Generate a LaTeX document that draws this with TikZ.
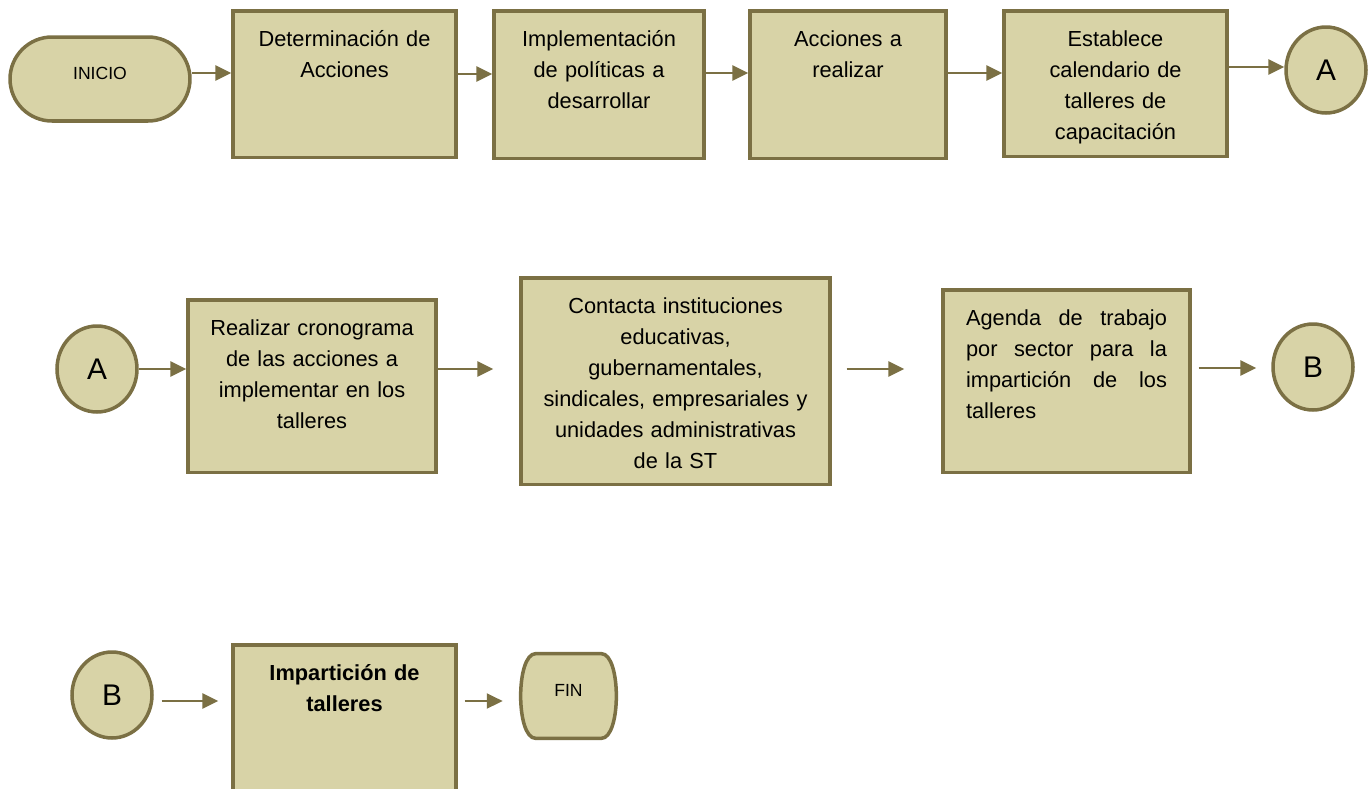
\documentclass[tikz,border=0pt]{standalone}
\usepackage{fontspec}
\setmainfont{Liberation Sans}
\usetikzlibrary{arrows.meta, shapes.geometric, shapes.misc, backgrounds}
\definecolor{boxfill}{RGB}{216,211,167}
\definecolor{boxline}{RGB}{123,112,68}

\begin{document}
\begin{tikzpicture}[x=0.02cm, y=-0.02cm,
	box/.style={rectangle, draw=boxline, fill=boxfill, line width=2pt, anchor=north, inner sep=0pt, align=center, text height=0.72cm, font=\fontsize{12.4pt}{17.6pt}\selectfont},
	term/.style={rounded rectangle, draw=boxline, fill=boxfill, line width=2pt, inner sep=0pt, minimum height=1.68cm, text height=0.25cm, text depth=0.25cm, font=\fontsize{10pt}{12pt}\selectfont},
	conn/.style={ellipse, draw=boxline, fill=boxfill, line width=2pt, inner sep=0pt, minimum width=1.6cm, minimum height=1.72cm, font=\fontsize{17pt}{20pt}\selectfont},
	flow/.style={draw=boxline, line width=1.3pt, -{Triangle[length=9pt, width=8.5pt]}}]
			\clip (0,0) rectangle (1369,788);
			
			\node[term, minimum width=3.6cm] (ini) at (100,79) {INICIO};
			\node[box, text width=4.46cm, text depth=2.22cm] (det) at (344.5,9) {Determinación de\\Acciones};
			\node[box, text width=4.2cm, text depth=2.24cm] (imp) at (599,9) {Implementación\\de políticas a\\desarrollar};
			\node[box, text width=3.92cm, text depth=2.24cm] (acc) at (848,9) {Acciones a\\realizar};
			\node[box, text width=4.46cm, text depth=2.2cm] (est) at (1115.5,9) {Establece\\calendario de\\talleres de\\capacitación};
			\node[conn] (ca1) at (1326,70) {A};
			
			\node[conn] (ca2) at (97,369) {A};
			\node[box, text width=4.96cm, text depth=2.74cm] (cro) at (312,298) {Realizar cronograma\\de las acciones a\\implementar en los\\talleres};
			\node[box, text width=6.18cm, text depth=3.42cm] (con) at (675.5,276) {Contacta instituciones\\educativas,\\gubernamentales,\\sindicales, empresariales y\\unidades administrativas\\de la ST};
			\node[box, align=left, inner xsep=0.46cm, text width=4.02cm, text depth=2.94cm] (age) at (1066.5,288) {Agenda\hfill de\hfill trabajo\\por\hfill sector\hfill para\hfill la\\impartición\hfill de\hfill los\\talleres};
			\node[conn] (cb1) at (1313,367) {B};
			
			\node[conn] (cb2) at (112,695) {B};
			\node[box, text width=4.46cm, text depth=2.5cm, font=\fontsize{12.4pt}{17.6pt}\selectfont\bfseries] (imt) at (344.5,643) {Impartición de\\talleres};
			\node[rectangle, inner sep=0pt, minimum width=1.9cm, minimum height=1.68cm, text height=0.3cm, text depth=0.3cm, font=\fontsize{10pt}{12pt}\selectfont] (fin) at (568.5,696) {FIN};
			% FIN outline: rounded corners, bulging sides
			\begin{scope}[on background layer]
			\filldraw[draw=boxline, fill=boxfill, line width=2pt] ([xshift=0.3cm]fin.north west) -- ([xshift=-0.3cm]fin.north east)
				.. controls ([xshift=0.1cm]fin.north east) and ([xshift=0.1cm]fin.south east) .. ([xshift=-0.3cm]fin.south east)
				-- ([xshift=0.3cm]fin.south west)
				.. controls ([xshift=-0.1cm]fin.south west) and ([xshift=-0.1cm]fin.north west) .. cycle;
			\end{scope}
			
			\foreach \from/\to/\y/\sa/\sb in {ini/det/73/0/0, det/imp/74/0/0, imp/acc/73/0/0, acc/est/73/0/0, est/ca1/67/0/0,
				ca2/cro/369/0/0, cro/con/369/0/0.52, con/age/369/0.3/0.74, age/cb1/368/0.14/0.3,
				cb2/imt/701/0.16/0.26, imt/fin/701/0.14/0.36}
			\draw[flow, shorten <=\sa cm, shorten >=\sb cm] (\from.east |- 0,\y) -- (\to.west |- 0,\y);
			\end{tikzpicture}
\end{document}
